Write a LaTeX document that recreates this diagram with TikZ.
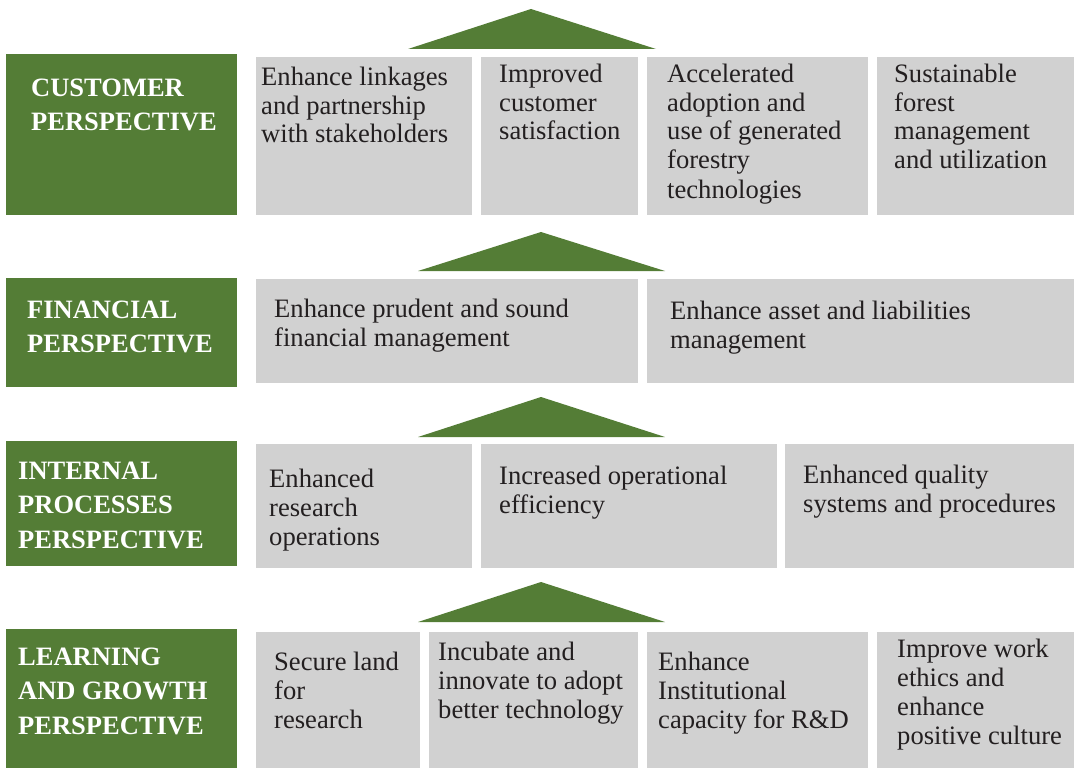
\documentclass[tikz,border=0pt]{standalone}
\usepackage{fontspec}
\setmainfont{Liberation Serif}
\definecolor{leaf}{RGB}{84,125,54}
\definecolor{panel}{RGB}{209,209,209}
\definecolor{ink}{RGB}{35,31,32}
% stacked lines whose reference point is the baseline of the first line
\newcommand\lns[1]{\begin{tabular}[t]{@{}l@{}}#1\end{tabular}}
\tikzset{
  headbox/.style={fill=leaf, draw=none, inner sep=0pt, anchor=north west},
  itembox/.style={fill=panel, draw=none, inner sep=0pt, anchor=north west},
  headtext/.style={anchor=base west, inner sep=0pt, text=white,
    font=\fontsize{26.5}{34.5}\selectfont\bfseries},
  itemtext/.style={anchor=base west, inner sep=0pt, text=ink,
    font=\fontsize{26.6}{29}\selectfont},
  roof/.style={fill=leaf, draw=none}
}
\begin{document}
\begin{tikzpicture}[x=1pt, y=-1pt]
\useasboundingbox (0,0) rectangle (1074,768);

% roofs above each row
\fill[roof] (408,49) -- (531,9) -- (656,49) -- cycle;
\fill[roof] (418,271) -- (541,232) -- (665,271) -- cycle;
\fill[roof] (418,437) -- (541,397) -- (665,437) -- cycle;
\fill[roof] (418,622) -- (541,582) -- (665,622) -- cycle;

% perspective headers
\node[headbox, minimum width=231pt, minimum height=161pt] (g1) at (6,54) {};
\node[headbox, minimum width=231pt, minimum height=109pt] (g2) at (6,278) {};
\node[headbox, minimum width=231pt, minimum height=125pt] (g3) at (6,441) {};
\node[headbox, minimum width=231pt, minimum height=139pt] (g4) at (6,629) {};

\node[headtext] (g1t) at (31,96) {\lns{CUSTOMER\\ PERSPECTIVE}};
\node[headtext] (g2t) at (27,318) {\lns{FINANCIAL\\ PERSPECTIVE}};
\node[headtext] (g3t) at (18,479) {\lns{INTERNAL\\ PROCESSES\\ PERSPECTIVE}};
\node[headtext] (g4t) at (18,665) {\lns{LEARNING\\ AND GROWTH\\ PERSPECTIVE}};

% customer row
\node[itembox, minimum width=216pt, minimum height=158pt] (c1) at (256,57) {};
\node[itembox, minimum width=157pt, minimum height=158pt] (c2) at (481,57) {};
\node[itembox, minimum width=221pt, minimum height=158pt] (c3) at (647,57) {};
\node[itembox, minimum width=197pt, minimum height=158pt] (c4) at (877,57) {};
\node[itemtext] (c1t) at (261,85) {\lns{Enhance linkages\\ and partnership\\ with stakeholders}};
\node[itemtext] (c2t) at (499,82) {\lns{Improved\\ customer\\ satisfaction}};
\node[itemtext] (c3t) at (667,82) {\lns{Accelerated\\ adoption and\\ use of generated\\ forestry\\ technologies}};
\node[itemtext] (c4t) at (894,82) {\lns{Sustainable\\ forest\\ management\\ and utilization}};

% financial row
\node[itembox, minimum width=382pt, minimum height=104pt] (f1) at (256,279) {};
\node[itembox, minimum width=427pt, minimum height=104pt] (f2) at (647,279) {};
\node[itemtext] (f1t) at (274,317) {\lns{Enhance prudent and sound\\ financial management}};
\node[itemtext] (f2t) at (670,319) {\lns{Enhance asset and liabilities\\ management}};

% internal processes row
\node[itembox, minimum width=216pt, minimum height=124pt] (i1) at (256,444) {};
\node[itembox, minimum width=296pt, minimum height=124pt] (i2) at (481,444) {};
\node[itembox, minimum width=289pt, minimum height=124pt] (i3) at (785,444) {};
\node[itemtext] (i1t) at (269,487) {\lns{Enhanced\\ research\\ operations}};
\node[itemtext] (i2t) at (499,484) {\lns{Increased operational\\ efficiency}};
\node[itemtext] (i3t) at (803,483) {\lns{Enhanced quality\\ systems and procedures}};

% learning and growth row
\node[itembox, minimum width=164pt, minimum height=136pt] (l1) at (256,632) {};
\node[itembox, minimum width=209pt, minimum height=136pt] (l2) at (429,632) {};
\node[itembox, minimum width=221pt, minimum height=136pt] (l3) at (647,632) {};
\node[itembox, minimum width=197pt, minimum height=136pt] (l4) at (877,632) {};
\node[itemtext] (l1t) at (274,670) {\lns{Secure land\\ for\\ research}};
\node[itemtext] (l2t) at (438,660) {\lns{Incubate and\\ innovate to adopt\\ better technology}};
\node[itemtext] (l3t) at (658,670) {\lns{Enhance\\ Institutional\\ capacity for R\&D}};
\node[itemtext] (l4t) at (897,657) {\lns{Improve work\\ ethics and\\ enhance\\ positive culture}};
\end{tikzpicture}
\end{document}
